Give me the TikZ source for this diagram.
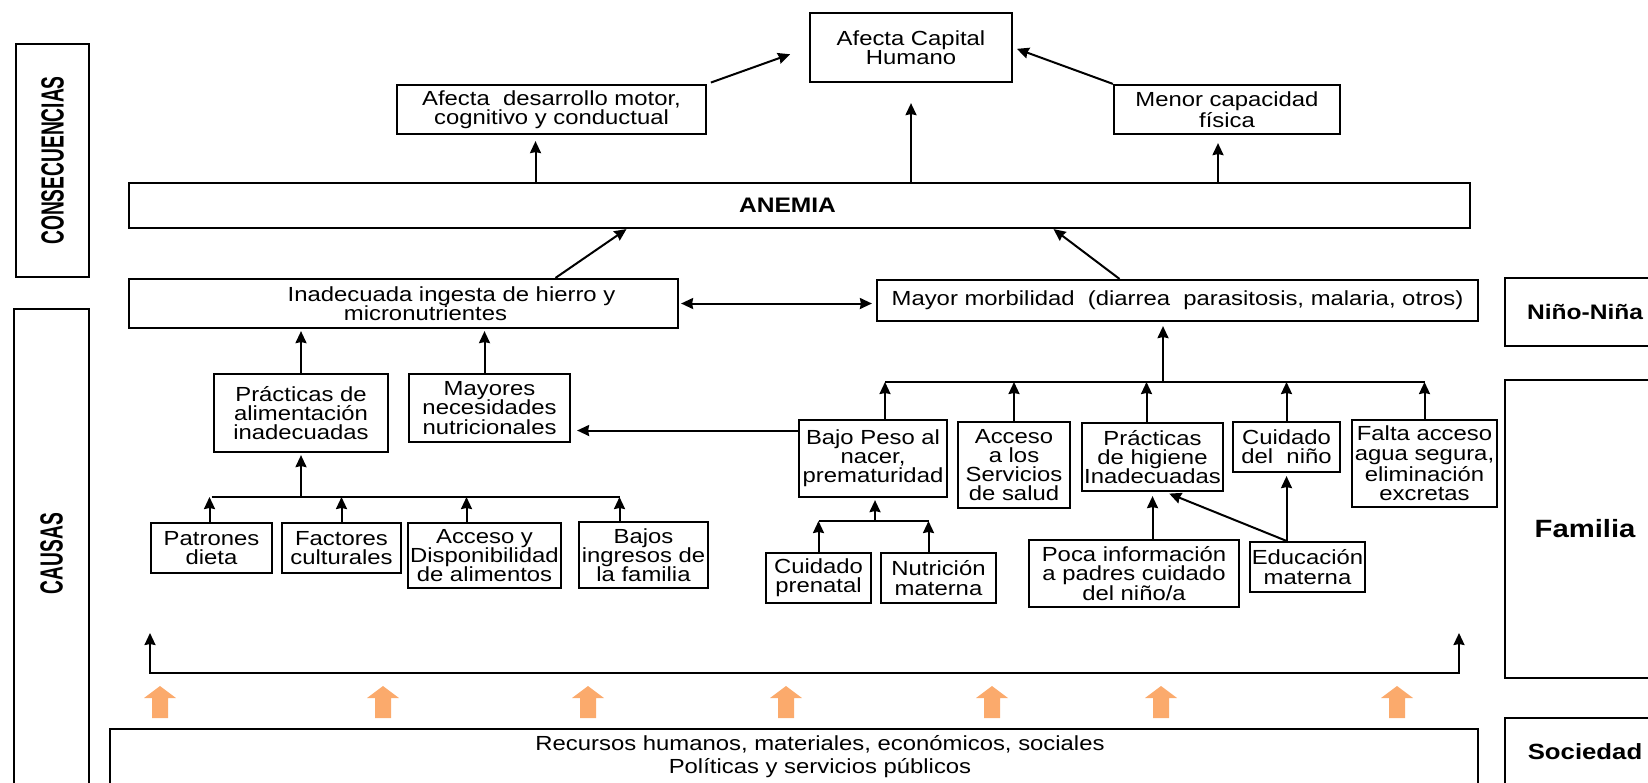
\documentclass[tikz,border=0pt]{standalone}
\usepackage{fontspec}
\setmainfont{Liberation Sans}[FakeStretch=1.17]
\newfontfamily\ladofont{Liberation Sans}[FakeStretch=0.6]
\usepackage{tikz}
\usetikzlibrary{calc,arrows.meta}
\definecolor{naranja}{RGB}{251,170,108}

\begin{document}
\begin{tikzpicture}[x=0.5pt, y=-0.5pt,
  caja/.style={draw, line width=1.1pt, align=center, inner sep=1pt, font=\fontsize{10.2}{9.6}\selectfont},
  lado/.style={caja, rotate=90, font=\ladofont\bfseries\fontsize{16}{16}\selectfont},
  nivel/.style={caja, minimum width=80pt},
  punta/.tip={Stealth[length=6pt, width=5.5pt, inset=0.5pt]},
  flecha/.style={-punta, line width=1pt},
  bus/.style={line width=1pt}]
  \useasboundingbox (0,0) rectangle (1648,782);

  % columnas laterales
  \node[lado, minimum width=116.5pt, minimum height=36.5pt] (consec) at (52.5,160.5) {CONSECUENCIAS};
  \node[lado, minimum width=244.5pt, minimum height=37.5pt] (causas) at (51.5,553.5) {CAUSAS};
  \node[nivel, minimum height=34pt, font=\bfseries\fontsize{10.5}{10.5}\selectfont] (ninio) at (1585,312) {Niño-Niña};
  \node[nivel, minimum height=149pt, font=\bfseries\fontsize{12.5}{12.5}\selectfont] (familia) at (1585,529) {Familia};
  \node[nivel, minimum height=33.5pt, font=\bfseries\fontsize{11}{11}\selectfont] (sociedad) at (1585,751.5) {Sociedad};

  % consecuencias
  \node[caja, minimum width=101pt, minimum height=34.5pt] (capital) at (911,47.5) {Afecta Capital\\Humano};
  \node[caja, minimum width=154.5pt, minimum height=24.5pt] (desarrollo) at (551.5,109.5) {Afecta\ \ desarrollo motor,\\cognitivo y conductual};
  \node[caja, minimum width=113pt, minimum height=24.5pt] (menor) at (1227,109.5) {Menor capacidad\\física};
  \node[caja, minimum width=670.5pt, minimum height=22.5pt, font=\bfseries\fontsize{10.5}{10.5}\selectfont] (anemia) at (799.5,205.5) {ANEMIA\hspace*{12pt}};

  % causas inmediatas
  \node[caja, minimum width=274.5pt, minimum height=24.5pt] (ingesta) at (403.5,303.5) {\hspace*{48pt}Inadecuada ingesta de hierro y\\\hspace*{22pt}micronutrientes};
  \node[caja, minimum width=300.5pt, minimum height=20.5pt] (morbilidad) at (1177.5,300.5) {Mayor morbilidad\ \ (diarrea\ \ parasitosis, malaria, otros)};

  % causas subyacentes
  \node[caja, minimum width=87pt, minimum height=39pt] (practicas) at (301,413) {Prácticas de\\alimentación\\inadecuadas};
  \node[caja, minimum width=80.5pt, minimum height=34pt] (mayores) at (489.5,408) {Mayores\\necesidades\\nutricionales};
  \node[caja, minimum width=60.5pt, minimum height=25pt] (patrones) at (211.5,548) {Patrones\\dieta};
  \node[caja, minimum width=59.5pt, minimum height=25pt] (factores) at (341.5,548) {Factores\\culturales};
  \node[caja, minimum width=73.5pt, minimum height=32.5pt] (acceso) at (484.5,555.5) {Acceso y\\Disponibilidad\\de alimentos};
  \node[caja, minimum width=64.5pt, minimum height=33pt] (bajos) at (643.5,555) {Bajos\\ingresos de\\la familia};
  \node[caja, minimum width=74pt, minimum height=38.5pt] (bajopeso) at (873,458.5) {Bajo Peso al\\nacer,\\prematuridad};
  \node[caja, minimum width=56pt, minimum height=43pt] (servicios) at (1014,465) {Acceso\\a los\\Servicios\\de salud};
  \node[caja, minimum width=68.5pt, minimum height=34pt] (higiene) at (1152.5,457) {Prácticas\\de higiene\\Inadecuadas};
  \node[caja, minimum width=53.5pt, minimum height=25pt] (cuidado) at (1286.5,447) {Cuidado\\del\ \ niño};
  \node[caja, minimum width=72.5pt, minimum height=43.5pt] (falta) at (1424.5,463.5) {Falta acceso\\agua segura,\\eliminación\\excretas};
  \node[caja, minimum width=52.5pt, minimum height=25pt] (prenatal) at (818.5,578) {Cuidado\\prenatal};
  \node[caja, minimum width=57.5pt, minimum height=25pt] (nutricion) at (938.5,578) {Nutrición\\materna};
  \node[caja, minimum width=105pt, minimum height=33.5pt] (poca) at (1134,573.5) {Poca información\\a padres cuidado\\del niño/a};
  \node[caja, minimum width=57.5pt, minimum height=25pt] (educacion) at (1307.5,567) {Educación\\materna};

  % causas basicas
  \node[caja, minimum width=684pt, minimum height=28pt, font=\fontsize{10.2}{11.5}\selectfont] (recursos) at (794,757) {\hspace*{26pt}Recursos humanos, materiales, económicos, sociales\\\hspace*{26pt}Políticas y servicios públicos};

  % flechas superiores
  \draw[flecha, shorten <=2pt, shorten >=10pt] (desarrollo.north east) -- (capital.west);
  \draw[flecha, shorten >=2pt] (menor.north west) -- (capital.east);
  \draw[flecha, shorten >=3pt] ($(anemia.north -| desarrollo.south)+(-16,0)$) -- ($(desarrollo.south)+(-16,0)$);
  \draw[flecha, shorten >=10pt] (anemia.north -| capital.south) -- (capital.south);
  \draw[flecha, shorten >=4pt] ($(anemia.north -| menor.south)+(-9,0)$) -- ($(menor.south)+(-9,0)$);
  \draw[flecha] ($(ingesta.north)+(152,0)$) -- ($(anemia.south)+(-173,0)$);
  \draw[flecha] ($(morbilidad.north)+(-58,0)$) -- ($(anemia.south)+(254,0)$);
  \draw[punta-punta, line width=1pt, shorten <=1pt, shorten >=2pt] (ingesta.east) -- (ingesta.east -| morbilidad.west);

  % ingesta
  \coordinate (busA) at (300,497);
  \draw[flecha, shorten >=1pt] (practicas.north) -- (practicas.north |- ingesta.south);
  \draw[flecha, shorten >=1pt] ($(mayores.north)+(-5,0)$) -- ($(mayores.north |- ingesta.south)+(-5,0)$);
  \draw[flecha, shorten >=1pt] (practicas.south |- busA) -- (practicas.south);
  \draw[bus] (patrones.north |- busA) -- ($(bajos.north |- busA)+(-24,0)$);
  \foreach \n/\d in {patrones/-2, factores/0, acceso/-18, bajos/-24}
    \draw[flecha] ($(\n.north)+(\d,0)$) -- ($(\n.north |- busA)+(\d,0)$);
  \draw[flecha, shorten >=3pt] ($(bajopeso.west)+(0,-28)$) -- ($(mayores.east)+(0,22.5)$);

  % morbilidad
  \coordinate (busB) at (1163,382);
  \draw[flecha, shorten >=2pt] (busB) -- (busB |- morbilidad.south);
  \draw[bus] ($(bajopeso.north |- busB)+(12,0)$) -- (falta.north |- busB);
  \foreach \n/\d in {bajopeso/12, servicios/0, higiene/-6, cuidado/0, falta/0}
    \draw[flecha] ($(\n.north)+(\d,0)$) -- ($(\n.north |- busB)+(\d,0)$);

  \coordinate (busC) at (875,521);
  \draw[flecha, shorten >=1pt] (busC) -- (busC |- bajopeso.south);
  \draw[bus] (prenatal.north |- busC) -- ($(nutricion.north |- busC)+(-10,0)$);
  \foreach \n/\d in {prenatal/0, nutricion/-10}
    \draw[flecha] ($(\n.north)+(\d,0)$) -- ($(\n.north |- busC)+(\d,0)$);

  \draw[flecha, shorten >=2pt] (poca.north -| higiene.south) -- (higiene.south);
  \draw[flecha, shorten >=1.5pt] (educacion.north -| cuidado.south) -- (cuidado.south);
  \draw[flecha, shorten >=2pt] (educacion.north -| cuidado.south) -- ($(higiene.south)+(13,0)$);

  % base
  \coordinate (topei) at (150,633);
  \coordinate (basei) at (150,673);
  \coordinate (based) at (1459,673);
  \coordinate (toped) at (1459,633);
  \draw[punta-punta, line width=1pt] (topei) -- (basei) -- (based) -- (toped);
  \foreach \x in {160,383,588,786,992,1161,1397}
    \fill[naranja] (\x-8,718) -- (\x-8,698) -- (\x-16,698) -- (\x,686) -- (\x+16,698) -- (\x+8,698) -- (\x+8,718) -- cycle;
\end{tikzpicture}
\end{document}
